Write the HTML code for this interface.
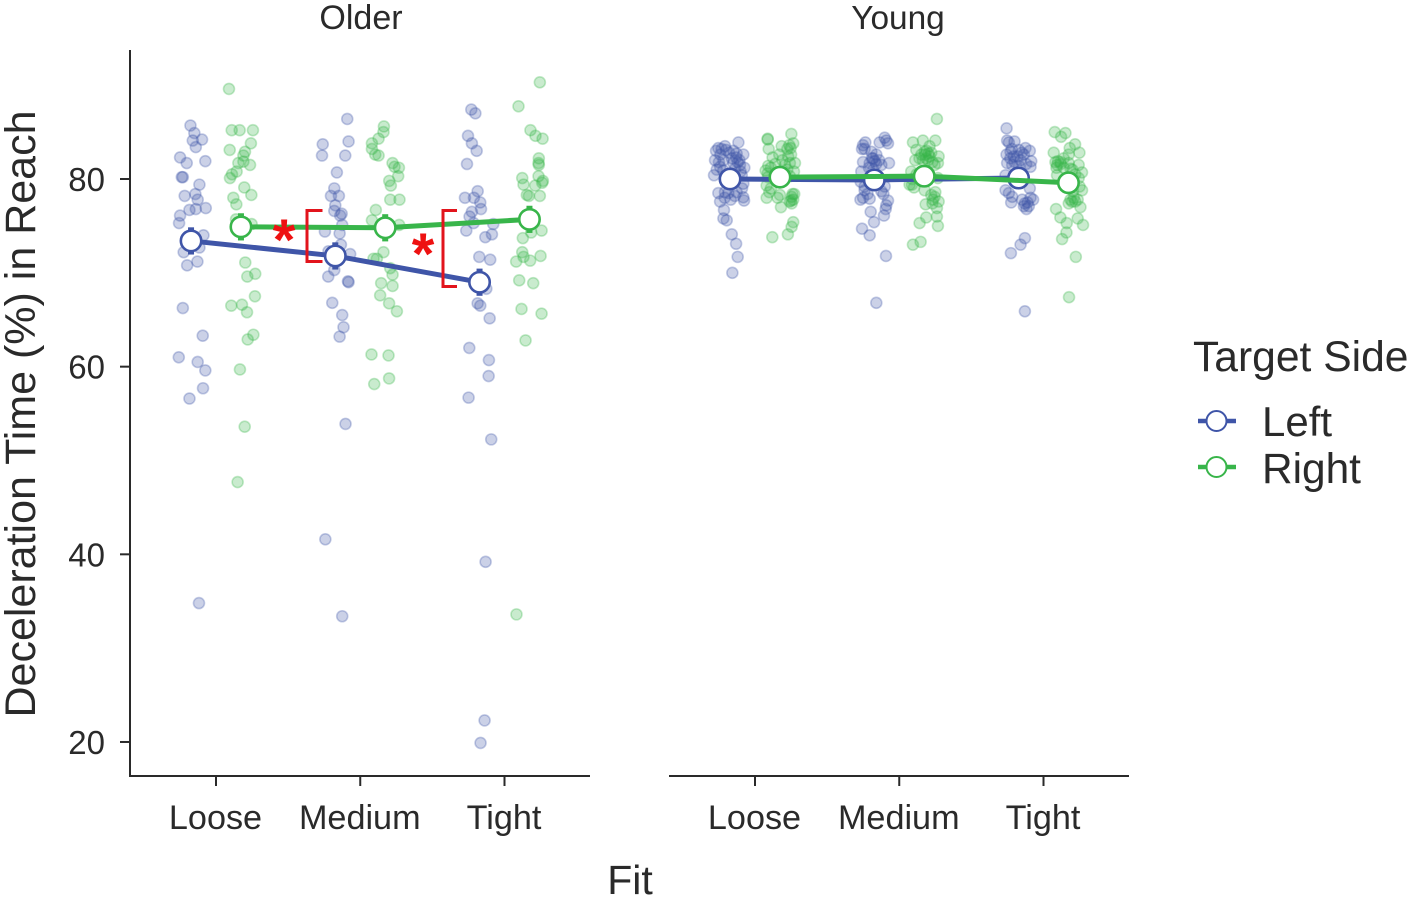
<!DOCTYPE html>
<html lang="en">
<head>
<meta charset="utf-8">
<title>Deceleration Time by Fit</title>
<style>
html,body{margin:0;padding:0;background:#fff;}
svg{display:block;filter:blur(0.35px);}
text{font-family:"Liberation Sans",Arial,sans-serif;fill:#2a2a2a;}
</style>
</head>
<body>
<svg id="chart" xmlns="http://www.w3.org/2000/svg" width="1414" height="900" viewBox="0 0 1414 900">
  <rect width="1414" height="900" fill="#fff"/>
  <g id="axes"></g>
  <g id="marks"></g>
  <g>
    <path d="M322.5 210.5H307V261.5H322.5" fill="none" stroke="#e2141c" stroke-width="3"/>
    <path d="M457 210.5H443V286.5H457" fill="none" stroke="#e2141c" stroke-width="3"/>
    <text x="284" y="260" text-anchor="middle" font-size="58" font-weight="bold" style="fill:#ee1111">*</text>
    <text x="423" y="274" text-anchor="middle" font-size="58" font-weight="bold" style="fill:#ee1111">*</text>
  </g>
  <text x="361" y="29" text-anchor="middle" font-size="34">Older</text>
  <text x="898" y="29" text-anchor="middle" font-size="33.4">Young</text>
  <text transform="translate(35,414) rotate(-90)" text-anchor="middle" font-size="43">Deceleration Time (%) in Reach</text>
  <text x="630" y="894" text-anchor="middle" font-size="41">Fit</text>
  <g>
    <text x="1193" y="371" font-size="42.6">Target Side</text>
    <g>
      <line x1="1198" x2="1236" y1="421" y2="421" stroke="#3f55a8" stroke-width="4.5"/>
      <circle cx="1216.5" cy="421" r="10" fill="#fff" stroke="#3f55a8" stroke-width="2"/>
      <text x="1262" y="436" font-size="42">Left</text>
    </g>
    <g>
      <line x1="1198" x2="1236" y1="467" y2="467" stroke="#38b54a" stroke-width="4.5"/>
      <circle cx="1216.5" cy="467" r="10" fill="#fff" stroke="#38b54a" stroke-width="2"/>
      <text x="1262" y="483" font-size="42.4">Right</text>
    </g>
  </g>
</svg>
<script>
// Categories and ticks
const fitCategories = ["Loose", "Medium", "Tight"];
const yTicks = [20, 40, 60, 80];

// Group means (Loose, Medium, Tight)
const olderLeftMeans = [73.4, 71.8, 69.0];
const olderRightMeans = [74.9, 74.8, 75.7];
const youngLeftMeans = [80.0, 79.9, 80.1];
const youngRightMeans = [80.2, 80.3, 79.6];

// Standard errors
const olderLeftSE = [1.45, 1.45, 1.45];
const olderRightSE = [1.45, 1.45, 1.45];
const youngLeftSE = [0.6, 0.6, 0.6];
const youngRightSE = [0.6, 0.6, 0.6];

// Participant observations: [jitter in hundredths of a category, value]
const olderLooseLeft = [[-17.7,85.7],[-15,84.9],[-16.1,84.1],[-9.7,84.2],[-14,83.4],[-24.9,82.3],[-20.3,81.7],[-7.4,81.9],[-23,80.2],[-23.7,80.2],[-11.5,79.4],[-21.7,78.2],[-14.3,78.4],[-12.7,77.8],[-14,76.8],[-18.4,76.7],[-7.1,76.9],[-24.9,76.1],[-25.6,75.3],[-8.7,74],[-11.5,72.7],[-22.4,72.2],[-20,70.8],[-12.9,71.2],[-23,66.25],[-9.2,63.3],[-25.8,61],[-12.7,60.5],[-7.4,59.6],[-9,57.7],[-18.4,56.6],[-11.8,34.8]];
const olderLooseRight = [[9,89.6],[10.9,85.2],[16.4,85.2],[25.6,85.2],[24.2,83.8],[9.5,83.1],[20.1,82.9],[19,82.5],[15.5,81.7],[19,81.85],[23.6,81.5],[14.3,80.8],[11.1,80.5],[9.7,80.1],[19.6,79.1],[24.5,78.3],[12,78],[14.1,77.3],[13.9,75.7],[24.7,75.2],[20.3,71.1],[27.2,69.9],[21.7,69.6],[27,67.5],[10.6,66.5],[18,66.6],[21.5,65.8],[25.9,63.4],[22,62.9],[16.6,59.7],[19.9,53.6],[15,47.7]];
const olderMediumLeft = [[-9,86.4],[-26,83.7],[-8.1,84],[-26.5,82.5],[-10.4,82.5],[-16.2,80.7],[-18,79],[-20.3,78.2],[-14.8,78.2],[-17.3,77.2],[-18,76.6],[-12.9,76.3],[-13.9,76.1],[-12.5,75.1],[-24.5,74.4],[-14.3,74.2],[-22,72.3],[-13.4,73],[-7,72],[-18,70.3],[-22.2,69.6],[-8.1,69],[-8.5,69.1],[-19.4,66.8],[-12.5,65.5],[-11.6,64.2],[-14.3,63.2],[-10.2,53.9],[-24.2,41.6],[-12.5,33.4]];
const olderMediumRight = [[16.4,85.6],[16.1,85],[12.7,84.3],[8.1,83.8],[8.1,83.2],[10.4,82.6],[12.7,82.5],[22.4,81.7],[23.8,81.3],[26.8,81.2],[26.3,80.3],[20.1,79.8],[21.2,79.3],[20.8,77.8],[27.2,77.8],[10.8,76.7],[8.1,75.6],[27,75.1],[16.1,72.2],[9.2,71.5],[11.5,71.5],[20.8,70.5],[22.4,69.8],[14.5,68.9],[22.4,68.6],[13.8,67.6],[20,66.75],[25.4,65.9],[7.8,61.3],[19.6,61.2],[20,58.75],[9.7,58.15]];
const olderTightLeft = [[-23,87.4],[-20.2,87],[-25.3,84.6],[-22.6,83.8],[-19.3,83],[-26,81.6],[-18.6,78.7],[-27.4,78],[-21.2,78],[-16.8,77.5],[-16.3,76.8],[-22.6,76.5],[-24.2,76],[-21.4,75.3],[-7.8,75.2],[-26.5,74.5],[-8.7,74.1],[-13.3,73.8],[-17.5,71.7],[-9.9,71.4],[-12.6,68.3],[-18.6,66.75],[-16.8,66.5],[-10.3,65.15],[-24.4,62],[-10.8,60.7],[-11,59],[-24.9,56.7],[-9.2,52.25],[-13.1,39.2],[-13.8,22.3],[-16.6,19.9]];
const olderTightRight = [[24.5,90.3],[9.7,87.75],[18,85.2],[21.5,84.6],[26.4,84.3],[23.8,82.2],[23.6,81.7],[23.8,81.5],[23.6,80.3],[26.6,79.8],[26.1,79.6],[12.3,80.1],[13.2,79.4],[21.3,79.3],[15.5,78.3],[16.9,78.2],[24.5,78.2],[18.5,74.3],[25.7,74.5],[12.7,73.7],[12.3,72.2],[13.2,71.7],[8.1,71.2],[17.8,71.3],[25,71.8],[10.2,69.2],[19.9,68.9],[11.8,66.15],[25.7,65.65],[14.6,62.8],[8.3,33.6]];
const youngLooseLeft = [[-11.5,83.9],[-20.8,83.5],[-25.4,83.3],[-27,83],[-23.1,83.2],[-12.7,82.7],[-8.1,82.6],[-27.7,82],[-10.8,82],[-13.1,82.3],[-15,81.7],[-10.4,81.5],[-7.4,81.2],[-26.5,81],[-28.4,80.4],[-9.2,80.4],[-21.9,82],[-20,83.1],[-13.8,81.1],[-24.2,81.3],[-8.1,79.5],[-25.4,78.5],[-20.8,78.6],[-18.5,78.5],[-12.7,78.6],[-8.1,78.05],[-7.6,77.7],[-16.8,77.8],[-24.2,77.6],[-21.5,76.7],[-21.9,75.8],[-19.6,75.6],[-16.1,74.1],[-13.1,73.1],[-12,71.7],[-15.7,70],[-24,82.6],[-18,82.8],[-15,83],[-12,81.8],[-10,80.8],[-25,81.8],[-22,80.9],[-16,82.2],[-14,80.3],[-9,79],[-21,78],[-14,78.2]];
const youngLooseRight = [[8.8,84.3],[8.8,84.2],[25.2,84.8],[9.5,83.2],[18.5,83.5],[26.5,83.8],[23.8,83.6],[22.4,83.2],[24.7,83.3],[16.8,82.6],[12.2,82.3],[27.7,81.7],[24.2,81.7],[20.8,81.5],[9.2,81.4],[7.4,80.9],[8.8,80.6],[27,80.8],[22.4,81],[24.2,80.3],[8.1,79.3],[9.9,78.6],[8.1,78],[27.2,78.4],[17.3,78.3],[15.7,78],[25.4,78.1],[26.5,77.8],[25.4,77.4],[18,77],[26.5,75.4],[25.4,74.9],[22.8,74.1],[12,73.8],[23,82.4],[19,82],[25,82.6],[9,80.2],[11,81.2],[14,81.6],[25,77.7],[26,78.4],[11,79],[24,77.6]];
const youngMediumLeft = [[-10.1,84.4],[-9,84.1],[-7.8,83.8],[-13.6,83.9],[-23.5,83.9],[-25.1,83.6],[-25.8,83.2],[-19.3,82.9],[-15.9,82.6],[-18.2,82.2],[-17,81.9],[-20.5,81.7],[-25.1,81.8],[-7.1,81.7],[-12.4,81.5],[-26.3,80.8],[-26.7,79.7],[-10.1,79.2],[-12.4,78.7],[-24,78.8],[-25.1,78],[-20.5,77.9],[-26.9,77.8],[-7.8,77.7],[-9.4,76.8],[-19.8,76.5],[-10.6,76.1],[-17.5,75.4],[-25.8,74.7],[-20.5,74],[-9.2,71.8],[-15.9,66.8],[-9,77.2],[-24,83.2],[-19,82.2],[-16,81.6],[-21,81.2],[-14,82],[-18,81],[-11,78.4],[-22,78.4],[-24,79.2]];
const youngMediumRight = [[26.1,86.4],[9.5,83.9],[16.4,84.1],[25,84.1],[21,83.5],[17.6,82.9],[20.3,82.7],[22.2,82.8],[15.3,82.6],[11.8,83.1],[11.1,82],[27.3,82.4],[18.7,82.2],[16.4,82],[24.5,81.5],[26.8,81.7],[8.3,80.8],[8.8,79.4],[10.2,79.1],[7.2,79.4],[26.8,80.1],[17.6,78.8],[22.2,78.3],[24.5,78.1],[23.3,77.8],[27.3,77.6],[18.3,77.3],[26.1,76.9],[26.1,76],[18.7,75.9],[26.8,75],[14.1,75.3],[14.8,73.3],[9.5,73],[19,83],[21,82.4],[18,82.6],[20,82],[14,82.2],[23,81.8],[12,80.5],[25,78.6],[23,77.4],[9,80]];
const youngTightLeft = [[-25.6,85.4],[-25.2,84.1],[-24,83.9],[-20.1,84],[-25.6,82.6],[-22.9,82.9],[-17.1,83.1],[-9.5,83],[-12.5,83.3],[-13.6,82.6],[-20.6,82.4],[-15.9,82],[-8.5,81.9],[-25.2,81.7],[-21.7,81.5],[-9,81.3],[-26.3,80.4],[-9.5,79],[-26.3,78.8],[-24,78.5],[-21.7,78.1],[-14.8,77.8],[-9,78],[-7.2,77.8],[-22.4,77.5],[-13.6,77.1],[-10.2,77.1],[-11.8,76.8],[-12.9,73.7],[-15.9,73],[-22.6,72.1],[-12.9,65.9],[-22,83.2],[-18,82.4],[-20,81.8],[-15,82.8],[-17,81.4],[-23,82.2],[-12,81.6],[-11,77.5],[-13,77.4]];
const youngTightRight = [[7.8,85],[15.2,84.9],[12.2,84.5],[21.9,83.7],[18.2,83.3],[24.9,82.8],[7.1,82.8],[17.5,82.6],[14,82.2],[8.3,81.8],[11.7,81.8],[9.4,81.5],[17.5,81.7],[24.4,81.5],[18.7,81.1],[26.7,80.7],[9.4,80.4],[24.4,80.1],[26.7,78.8],[20.5,78.7],[18.7,77.8],[23.7,77.8],[19.8,77.6],[17.5,77.4],[25.6,77],[8.7,76.8],[11.7,75.9],[23.7,75.8],[16.1,75.3],[27.4,75.1],[15.9,74.3],[12.9,73.6],[22.4,71.7],[17.7,67.4],[10,81.9],[12,81.6],[14,81.2],[9,81.2],[20,81],[22,80.5],[25,79.2],[21,78],[22,77.6]];

const COLORS = { left: "#3f55a8", right: "#38b54a" };
const NS = "http://www.w3.org/2000/svg";
const DODGE = 0.173;

function yScale(v) { return 179 + (80 - v) * 9.383; }
function xScale(panel, pos) {
  const first = panel === 0 ? 216 : 755;
  return first + pos * 144.25;
}
function make(parent, tag, attrs) {
  const el = document.createElementNS(NS, tag);
  for (const k in attrs) el.setAttribute(k, attrs[k]);
  parent.appendChild(el);
  return el;
}

const axes = document.getElementById("axes");
const marks = document.getElementById("marks");

// Axes
const yLine = make(axes, "line", { x1: 130, x2: 130, y1: 50, y2: 777, stroke: "#2a2a2a", "stroke-width": 2 });


yTicks.forEach(function (t) {
  const tick = make(axes, "line", { x1: 120, x2: 130, y1: yScale(t), y2: yScale(t), stroke: "#2a2a2a", "stroke-width": 2 });
  
  
  const label = make(axes, "text", { x: 105, y: yScale(t) + 12, "text-anchor": "end", "font-size": 33 });
  
  
  label.textContent = t;
});
[[130, 590], [669, 1129]].forEach(function (range, panel) {
  const xLine = make(axes, "line", { x1: range[0], x2: range[1], y1: 776, y2: 776, stroke: "#2a2a2a", "stroke-width": 2 });
  
  
  fitCategories.forEach(function (cat, i) {
    const tick = make(axes, "line", { x1: xScale(panel, i), x2: xScale(panel, i), y1: 776, y2: 786, stroke: "#2a2a2a", "stroke-width": 2 });
    
    
    const label = make(axes, "text", { x: xScale(panel, i) - 0.5, y: 829, "text-anchor": "middle", "font-size": 34.2 });
    
    
    label.textContent = cat;
  });
});

// Jittered observations
function drawPoints(panel, catIndex, rows, color) {
  rows.forEach(function (row) {
    const dot = make(marks, "circle", {
      cx: xScale(panel, catIndex + row[0] / 100), cy: yScale(row[1]), r: 5.5,
      fill: color, "fill-opacity": 0.27, stroke: color, "stroke-opacity": 0.3, "stroke-width": 1.6
    });
    
    
  });
}
drawPoints(0, 0, olderLooseLeft, COLORS.left);
drawPoints(0, 0, olderLooseRight, COLORS.right);
drawPoints(0, 1, olderMediumLeft, COLORS.left);
drawPoints(0, 1, olderMediumRight, COLORS.right);
drawPoints(0, 2, olderTightLeft, COLORS.left);
drawPoints(0, 2, olderTightRight, COLORS.right);
drawPoints(1, 0, youngLooseLeft, COLORS.left);
drawPoints(1, 0, youngLooseRight, COLORS.right);
drawPoints(1, 1, youngMediumLeft, COLORS.left);
drawPoints(1, 1, youngMediumRight, COLORS.right);
drawPoints(1, 2, youngTightLeft, COLORS.left);
drawPoints(1, 2, youngTightRight, COLORS.right);

// Mean lines, error bars, mean markers
function drawSeries(panel, means, errors, offset, color, name) {
  const pts = means.map(function (m, i) { return xScale(panel, i + offset) + "," + yScale(m); }).join(" ");
  const line = make(marks, "polyline", { points: pts, fill: "none", stroke: color, "stroke-width": 5 });
  
  
  means.forEach(function (m, i) {
    const x = xScale(panel, i + offset);
    const bar = make(marks, "line", { x1: x, x2: x, y1: yScale(m + errors[i]), y2: yScale(m - errors[i]), stroke: color, "stroke-width": 6 });
    
    
    const dot = make(marks, "circle", { cx: x, cy: yScale(m), r: 10.2, fill: "#fff", stroke: color, "stroke-width": 2.6 });
    
    
  });
}
drawSeries(0, olderLeftMeans, olderLeftSE, -DODGE, COLORS.left, "older-left");
drawSeries(0, olderRightMeans, olderRightSE, DODGE, COLORS.right, "older-right");
drawSeries(1, youngLeftMeans, youngLeftSE, -DODGE, COLORS.left, "young-left");
drawSeries(1, youngRightMeans, youngRightSE, DODGE, COLORS.right, "young-right");
</script>
</body>
</html>
